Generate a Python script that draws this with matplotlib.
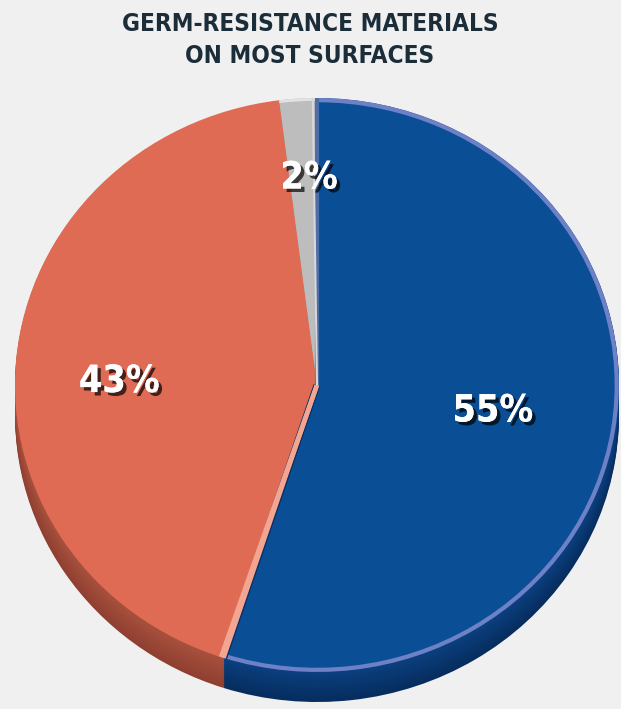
import numpy as np
import matplotlib.pyplot as plt
from matplotlib import patches
from matplotlib import colors as mcolors
from matplotlib import patheffects as pe

# data
labels = ["55%", "43%", "2%"]
shares = [55, 43, 2]
top_colors = ["#0a4f96", "#e06b54", "#bdbdbd"]
side_dark = ["#062d5e", "#8f3f30", "#7a7a7a"]
side_light = ["#0b3f7e", "#a8503e", "#9a9a9a"]
rim_colors = ["#6f81c6", "#f2a692", "#e2e2e2"]
title = "GERM-RESISTANCE MATERIALS\nON MOST SURFACES"

W, H = 621, 709
cx, cy = 317, 385      # pie centre in pixels (from top)
rx, ry = 302, 287      # top ellipse radii in pixels
depth = 30 / ry        # side thickness in y units

fig = plt.figure(figsize=(W / 100, H / 100), dpi=100, facecolor="#f0f0f0")
ax = fig.add_axes([0, 0, 1, 1])
ax.set_facecolor("#f0f0f0")

# side of the 3d pie, stacked layers
n = 16
for i, d in enumerate(np.linspace(depth, 0.004, n)):
    t = i / (n - 1)
    cols = []
    for a, b in zip(side_dark, side_light):
        ca = np.array(mcolors.to_rgb(a))
        cb = np.array(mcolors.to_rgb(b))
        cols.append(ca * (1 - t) + cb * t)
    ax.pie(shares, colors=cols, startangle=90, counterclock=False,
           center=(0, -d), radius=1, wedgeprops=dict(linewidth=0))

# top face
wedges, _ = ax.pie(shares, colors=top_colors, startangle=90, counterclock=False,
                   center=(0, 0), radius=1, wedgeprops=dict(linewidth=0))

# rim highlights
blue = wedges[0]
ax.add_patch(patches.Arc((0, 0), 1.985, 1.985, theta1=blue.theta1, theta2=blue.theta2,
                         color=rim_colors[0], lw=3))
gray = wedges[2]
ax.add_patch(patches.Arc((0, 0), 1.99, 1.99, theta1=gray.theta1, theta2=gray.theta2,
                         color=rim_colors[2], lw=2))

# radial edges
def radial(ang, color, lw):
    a = np.deg2rad(ang)
    ax.plot([0, np.cos(a)], [0, np.sin(a)], color=color, lw=lw,
            solid_capstyle="butt")

orange = wedges[1]
# orange / blue boundary
radial(blue.theta1, "#0a2f63", 5)
radial(blue.theta1 - 0.5, rim_colors[1], 3.5)
# orange / gray boundary
radial(orange.theta2, rim_colors[1], 3)
# gray / blue boundary
radial(blue.theta2, "#4c6fa8", 3)
radial(blue.theta2 + 0.8, "#d8d8d8", 1.5)

# percentage labels
label_dist = [0.59, 0.655, 0.72]
label_turn = [0, 4.5, -1.5]
for w, lab, dist, turn in zip(wedges, labels, label_dist, label_turn):
    mid = np.deg2rad((w.theta1 + w.theta2) / 2 + turn)
    ax.text(dist * np.cos(mid), dist * np.sin(mid), lab, ha="center", va="center",
            color="white", fontsize=27, fontweight="bold", fontstretch="condensed",
            family="DejaVu Sans",
            path_effects=[pe.withSimplePatchShadow(offset=(2.5, -2.5),
                                                   shadow_rgbFace="black", alpha=0.7),
                          pe.Normal()])

ax.set_aspect("auto")
ax.set_xlim(-cx / rx, (W - cx) / rx)
ax.set_ylim(-(H - cy) / ry, cy / ry)
ax.axis("off")

fig.text(0.499, 1 - 40 / H, title, ha="center", va="center", fontsize=17.5,
         fontweight="bold", fontstretch="condensed", family="DejaVu Sans",
         color="#1c2d3a", linespacing=1.45)

fig.savefig("out.png", dpi=100, facecolor=fig.get_facecolor())
